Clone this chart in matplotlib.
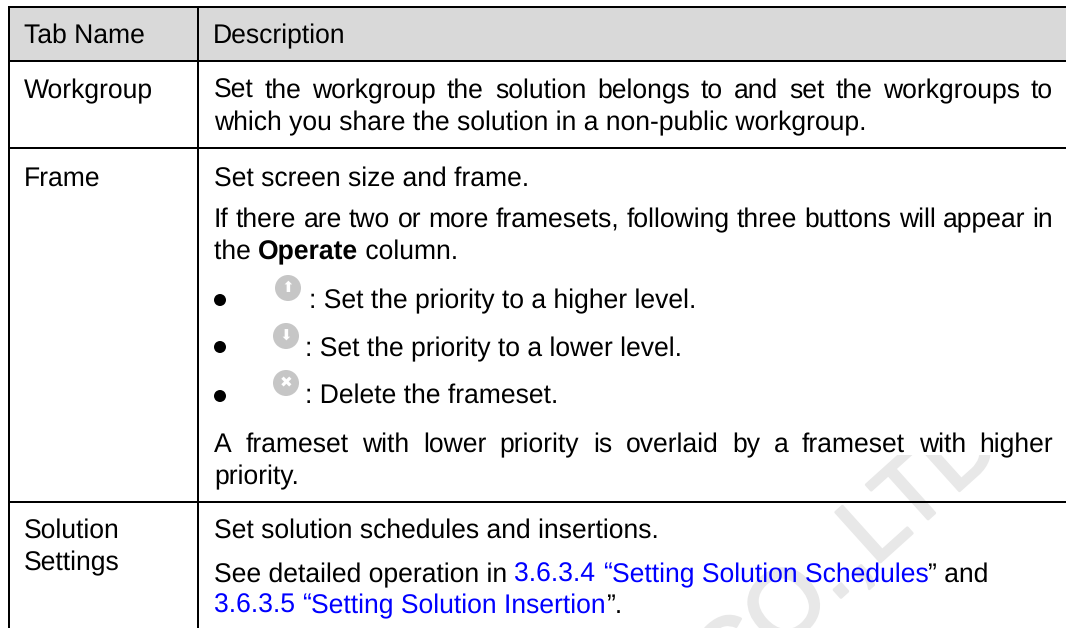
import matplotlib
matplotlib.use("Agg")
import matplotlib.pyplot as plt
import matplotlib.patheffects as pe
from matplotlib.patches import Circle, Rectangle

plt.rcParams["text.hinting"] = "none"

W, H = 1066, 628
FONT = "Liberation Sans"
PX = 26.55
BLUE = "#0000ff"
BLACK = "#000000"

header = ["Tab Name", "Description"]
tab_names = [("Workgroup", 98), ("Frame", 186), ("Solution", 538), ("Settings", 570)]

# (baseline y, x start, x end for justified or None, runs [(text, colour, weight)])
rows = [
    (98, 214, 1053, [("Set the workgroup the solution belongs to and set the workgroups to", BLACK, "normal")]),
    (130, 214, None, [("which you share the solution in a non-public workgroup.", BLACK, "normal")]),
    (186, 214, None, [("Set screen size and frame.", BLACK, "normal")]),
    (227, 214, 1053, [("If there are two or more framesets, following three buttons will appear in", BLACK, "normal")]),
    (259, 214, None, [("the ", BLACK, "normal"), ("Operate", BLACK, "bold"), (" column.", BLACK, "normal")]),
    (308, 309, None, [(": Set the priority to a higher level.", BLACK, "normal")]),
    (356, 305, None, [(": Set the priority to a lower level.", BLACK, "normal")]),
    (403, 305, None, [(": Delete the frameset.", BLACK, "normal")]),
    (452, 214, 1053, [("A frameset with lower priority is overlaid by a frameset with higher", BLACK, "normal")]),
    (484, 214, None, [("priority.", BLACK, "normal")]),
    (538, 214, None, [("Set solution schedules and insertions.", BLACK, "normal")]),
    (582, 214, None, [("See detailed operation in ", BLACK, "normal"), ("3.6.3.4 ", BLUE, "normal"), ("“", BLUE, "normal"),
                      ("Setting Solution Schedules", BLUE, "normal"), ("” and", BLACK, "normal")]),
    (613, 214, None, [("3.6.3.5 ", BLUE, "normal"), ("“", BLUE, "normal"),
                      ("Setting Solution Insertion", BLUE, "normal"), ("”.", BLACK, "normal")]),
]
bullets_y = [300, 347, 396]
icons = [(288, 288, "⬆"), (286, 336, "⬇"), (286, 383, "✖")]

fig = plt.figure(figsize=(W / 100, H / 100), dpi=100)
ax = fig.add_axes([0, 0, 1, 1])
ax.set_xlim(0, W)
ax.set_ylim(H, 0)
ax.axis("off")
fs = PX * 72 / 100
fig.canvas.draw()
rend = fig.canvas.get_renderer()


def width(s, weight="normal"):
    t = ax.text(0, 0, s, fontsize=fs, family=FONT, weight=weight)
    w = t.get_window_extent(rend).width
    t.remove()
    return w


def put(x, y, s, c=BLACK, weight="normal"):
    ax.text(x, y, s, fontsize=fs, family=FONT, color=c, weight=weight, va="baseline", ha="left", zorder=5)


wm = ax.text(726, 701, "CO.,LTD", fontsize=70, family=FONT, color="#e8e8e8", rotation=42,
             ha="left", va="baseline", rotation_mode="anchor", zorder=1,
             path_effects=[pe.withStroke(linewidth=2, foreground="#e8e8e8")])
wm.set_clip_path(Rectangle((0, 455), W, H - 455, transform=ax.transData))
wm.set_clip_on(True)
ax.add_patch(Rectangle((8, 7), W - 8, 54, fc="#d9d9d9", ec="none", zorder=2))

lw = 2.0 * 72 / 100
for y in (7, 61, 148, 502):
    ax.plot([7.5, W], [y, y], color=BLACK, lw=lw, solid_capstyle="butt", zorder=3)
for x in (8.5, 197.5):
    ax.plot([x, x], [6, H], color=BLACK, lw=lw, solid_capstyle="butt", zorder=3)

put(24, 43, header[0])
put(213, 43, header[1])
for s, y in tab_names:
    put(24, y, s)

space = width("a a") - width("aa")
for y, x0, x1, runs in rows:
    if x1 is not None:
        words = runs[0][0].split(" ")
        ws = [width(w) for w in words]
        gap = (x1 - x0 - sum(ws)) / (len(words) - 1)
        x = x0
        for w, wd in zip(words, ws):
            put(x, y, w)
            x += wd + gap
    else:
        x = x0
        for s, c, wt in runs:
            put(x, y, s, c, wt)
            x += width(s.replace(" ", "n"), wt) - s.count(" ") * (width("n") - space)

for y in bullets_y:
    ax.add_patch(Circle((220, y), 6, fc=BLACK, ec="none", zorder=5))
for x, y, m in icons:
    ax.add_patch(Circle((x, y), 13, fc="#c6c6c6", ec="none", zorder=5))
    ax.text(x, y, m, fontsize=11, family="DejaVu Sans", color="white", ha="center", va="center", zorder=6)

fig.savefig("out.png", dpi=100)
